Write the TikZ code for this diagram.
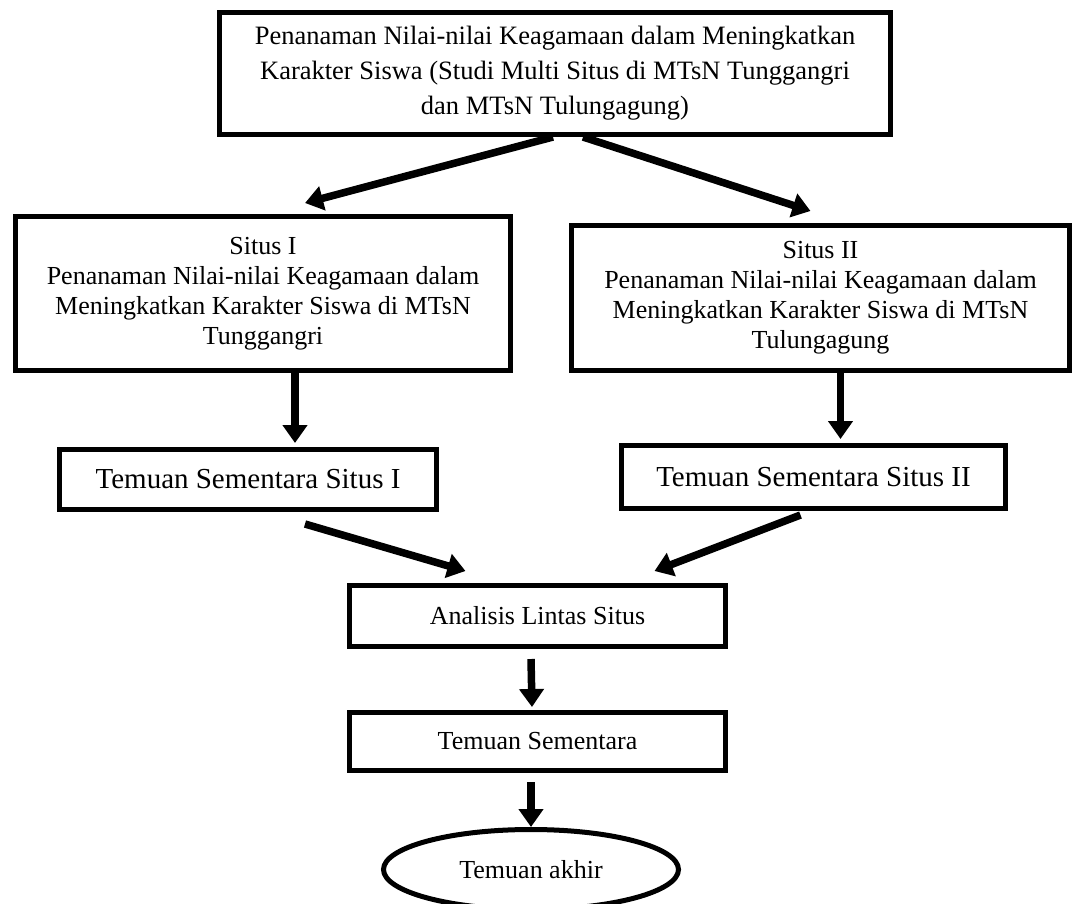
\documentclass[tikz,border=0pt]{standalone}
\usepackage{fontspec}
\setmainfont{Liberation Serif}
\usetikzlibrary{shapes.geometric, arrows.meta, positioning}

\begin{document}
\begin{tikzpicture}[x=1pt, y=-1pt,
    kotak/.style={draw, rectangle, line width=5pt, inner sep=0pt, align=center, font=\fontsize{26}{30}\selectfont},
    alur/.style={-{Triangle[length=18pt, width=24pt]}, line width=7.5pt}]
    \useasboundingbox (0,0) rectangle (1074,903);

    \node[kotak, minimum width=671pt, minimum height=122pt, font=\fontsize{26.5}{35}\selectfont] (judul) at (555,73.5)
        {Penanaman Nilai-nilai Keagamaan dalam Meningkatkan\\Karakter Siswa (Studi Multi Situs di MTsN Tunggangri\\dan MTsN Tulungagung)};
    \node[kotak, minimum width=495pt, minimum height=154pt] (situsA) at (263,293.5)
        {Situs I\\Penanaman Nilai-nilai Keagamaan dalam\\Meningkatkan Karakter Siswa di MTsN\\Tunggangri};
    \node[kotak, minimum width=498pt, minimum height=145pt] (situsB) at (820.5,298)
        {Situs II\\Penanaman Nilai-nilai Keagamaan dalam\\Meningkatkan Karakter Siswa di MTsN\\Tulungagung};
    \node[kotak, minimum width=377pt, minimum height=60pt, font=\fontsize{29}{33}\selectfont] (temuanA) at (248,479.5) {Temuan Sementara Situs I};
    \node[kotak, minimum width=384pt, minimum height=63pt, font=\fontsize{29}{33}\selectfont] (temuanB) at (813.5,477) {Temuan Sementara Situs II};
    \node[kotak, minimum width=376pt, minimum height=61pt] (analisis) at (537.5,616) {Analisis Lintas Situs};
    \node[kotak, minimum width=376pt, minimum height=58pt, below=61pt of analisis] (sementara) {Temuan Sementara};
    \node[kotak, ellipse, minimum width=295pt, minimum height=80pt, below=54pt of sementara, xshift=-6.5pt] (akhir) {Temuan akhir};

    \draw[alur] ([xshift=-2pt]judul.south) -- ([xshift=42pt, yshift=11pt]situsA.north);
    \draw[alur] ([xshift=28pt]judul.south) -- ([xshift=-10pt, yshift=12pt]situsB.north);
    \draw[alur] ([xshift=32pt]situsA.south) -- ([xshift=32pt, yshift=4pt]situsA.south |- temuanA.north);
    \draw[alur] ([xshift=20pt]situsB.south) -- ([xshift=20pt, yshift=4pt]situsB.south |- temuanB.north);
    \draw[alur] ([xshift=57pt, yshift=-12pt]temuanA.south) -- ([xshift=-72pt, yshift=12pt]analisis.north);
    \draw[alur] ([xshift=-13pt, yshift=-4pt]temuanB.south) -- ([xshift=117pt, yshift=12pt]analisis.north);
    \draw[alur] ([xshift=-6.5pt, yshift=-10pt]analisis.south) -- ([xshift=-5.5pt, yshift=3pt]sementara.north);
    \draw[alur] ([yshift=-9pt]sementara.south -| akhir.north) -- (akhir.north);
\end{tikzpicture}
\end{document}
